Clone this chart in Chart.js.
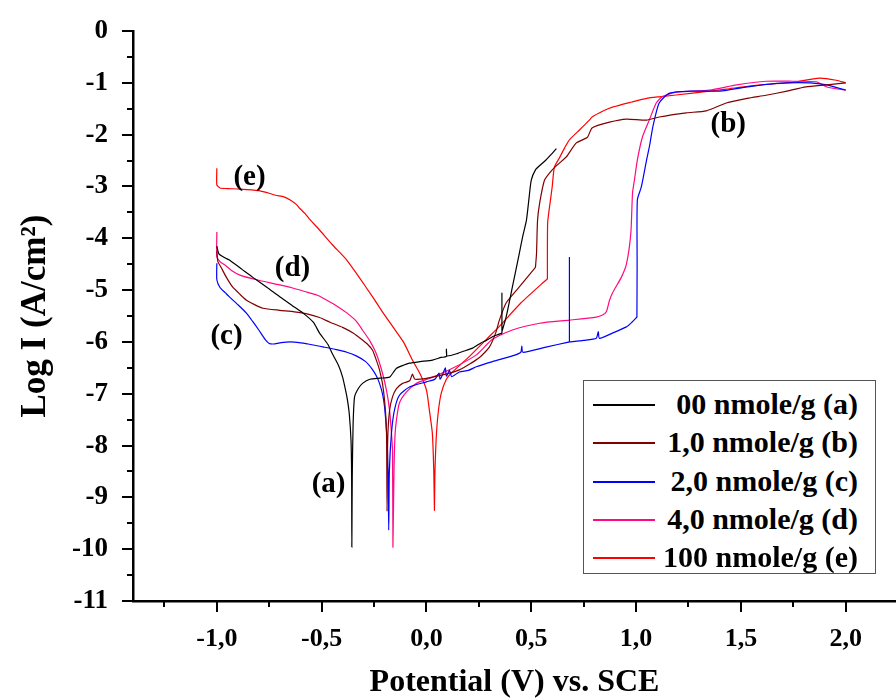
<!DOCTYPE html>
<html>
<head>
<meta charset="utf-8">
<title>Polarization curves</title>
<script src="https://cdn.jsdelivr.net/npm/chart.js@4.4.1/dist/chart.umd.min.js"></script>
<style>
  html, body { margin: 0; padding: 0; background: #fff; }
  #wrap { position: relative; width: 896px; height: 700px; }
  #legend {
    position: absolute; left: 583px; top: 380px; width: 293px; height: 194px;
    border: 1.5px solid #555; box-sizing: border-box; background: #fff;
    font: bold 30px "Liberation Serif", "Times New Roman", serif; color: #000;
  }
  .row { position: absolute; left: 0; right: 0; height: 38px; line-height: 38px; }
  .row .ln { position: absolute; left: 9px; width: 62px; top: 19px; height: 1.5px; }
  .row .tx { position: absolute; right: 17px; top: 0; white-space: nowrap; }
</style>
</head>
<body>
<div id="wrap">
  <canvas id="polChart" width="896" height="700"></canvas>
  <div id="legend"></div>
</div>
<script>
// series names and colours (legend order)
const seriesLabels = ['00 nmole/g (a)', '1,0 nmole/g (b)', '2,0 nmole/g (c)', '4,0 nmole/g (d)', '100 nmole/g (e)'];
const seriesColors = ['#000000', '#800000', '#0000ff', '#ff0a82', '#ff0000'];

// tick labels
const xTicks = [-1.0, -0.5, 0.0, 0.5, 1.0, 1.5, 2.0];
const yTicks = [0, -1, -2, -3, -4, -5, -6, -7, -8, -9, -10, -11];

// (a) 00 nmole/g
const potA = [-1.0, -0.99, -0.96, -0.94, -0.88, -0.83, -0.76, -0.70, -0.64, -0.59, -0.54, -0.51, -0.47, -0.45, -0.42, -0.40, -0.385, -0.377, -0.368, -0.36, -0.357, -0.356, -0.354, -0.35, -0.343, -0.325, -0.305, -0.27, -0.22, -0.176, -0.16, -0.143, -0.11, -0.081, -0.03, 0.029, 0.07, 0.095, 0.095, 0.098, 0.15, 0.19, 0.22, 0.26, 0.286, 0.315, 0.34, 0.36, 0.36, 0.36, 0.36, 0.36, 0.38, 0.41, 0.443, 0.46, 0.477, 0.49, 0.50, 0.52, 0.545, 0.57, 0.60, 0.62];
const logA = [-4.15, -4.3, -4.38, -4.42, -4.6, -4.75, -4.95, -5.13, -5.3, -5.44, -5.62, -5.83, -6.05, -6.22, -6.45, -6.68, -6.95, -7.12, -7.4, -7.9, -8.6, -9.96, -8.6, -7.6, -7.06, -6.9, -6.8, -6.72, -6.7, -6.68, -6.6, -6.51, -6.45, -6.41, -6.38, -6.35, -6.3, -6.28, -6.14, -6.27, -6.22, -6.16, -6.12, -6.02, -5.97, -5.9, -5.86, -5.83, -5.83, -5.06, -5.8, -5.8, -5.52, -4.94, -4.29, -3.95, -3.65, -3.2, -2.88, -2.68, -2.58, -2.49, -2.36, -2.27];

// (b) 1,0 nmole/g
const potB = [-1.0, -0.995, -0.98, -0.955, -0.925, -0.89, -0.86, -0.82, -0.78, -0.70, -0.63, -0.57, -0.51, -0.46, -0.40, -0.35, -0.31, -0.28, -0.257, -0.235, -0.224, -0.21, -0.2, -0.193, -0.19, -0.188, -0.185, -0.176, -0.162, -0.143, -0.114, -0.08, -0.067, -0.055, 0.029, 0.157, 0.253, 0.3, 0.33, 0.348, 0.38, 0.443, 0.52, 0.52, 0.525, 0.53, 0.54, 0.563, 0.60, 0.634, 0.667, 0.715, 0.768, 0.79, 0.873, 0.954, 1.05, 1.11, 1.24, 1.335, 1.43, 1.53, 1.62, 1.72, 1.81, 1.91, 2.0];
const logB = [-4.25, -4.45, -4.56, -4.75, -4.94, -5.08, -5.19, -5.28, -5.35, -5.39, -5.42, -5.46, -5.53, -5.62, -5.72, -5.83, -5.95, -6.05, -6.16, -6.4, -6.54, -6.8, -7.12, -7.5, -7.9, -9.27, -7.9, -7.32, -7.06, -6.9, -6.8, -6.75, -6.62, -6.72, -6.68, -6.54, -6.3, -6.1, -5.83, -5.58, -5.25, -4.94, -4.56, -4.56, -4.3, -3.65, -3.32, -2.88, -2.68, -2.55, -2.43, -2.16, -2.05, -1.87, -1.76, -1.70, -1.72, -1.66, -1.58, -1.54, -1.39, -1.3, -1.24, -1.16, -1.08, -1.04, -1.0];

// (c) 2,0 nmole/g
const potC = [-1.0, -1.0, -0.985, -0.96, -0.94, -0.90, -0.86, -0.83, -0.80, -0.77, -0.75, -0.73, -0.70, -0.65, -0.60, -0.54, -0.49, -0.43, -0.38, -0.335, -0.29, -0.26, -0.24, -0.224, -0.21, -0.2, -0.19, -0.183, -0.18, -0.177, -0.167, -0.153, -0.129, -0.081, 0.0, 0.04, 0.06, 0.065, 0.076, 0.09, 0.095, 0.11, 0.12, 0.157, 0.2, 0.238, 0.315, 0.41, 0.45, 0.455, 0.46, 0.57, 0.682, 0.682, 0.682, 0.682, 0.682, 0.75, 0.81, 0.82, 0.825, 0.887, 0.954, 0.98, 1.004, 1.004, 1.005, 1.006, 1.025, 1.05, 1.065, 1.08, 1.11, 1.16, 1.27, 1.4, 1.53, 1.67, 1.83, 1.91, 2.0];
const logC = [-4.48, -4.8, -4.95, -5.05, -5.13, -5.28, -5.44, -5.6, -5.77, -5.95, -6.03, -6.04, -6.02, -6.0, -6.02, -6.06, -6.1, -6.15, -6.2, -6.27, -6.38, -6.52, -6.65, -6.8, -7.0, -7.25, -7.76, -8.5, -9.63, -8.5, -7.76, -7.32, -7.03, -6.87, -6.77, -6.72, -6.6, -6.72, -6.64, -6.5, -6.66, -6.55, -6.67, -6.58, -6.55, -6.48, -6.38, -6.27, -6.2, -6.08, -6.2, -6.1, -6.0, -6.0, -4.36, -6.0, -6.0, -5.97, -5.93, -5.8, -5.93, -5.83, -5.71, -5.62, -5.52, -5.52, -4.5, -3.26, -3.01, -2.49, -2.2, -1.85, -1.39, -1.2, -1.16, -1.16, -1.08, -1.01, -1.0, -1.04, -1.14];

// (d) 4,0 nmole/g
const potD = [-1.0, -1.0, -0.985, -0.96, -0.93, -0.89, -0.8, -0.7, -0.63, -0.57, -0.52, -0.477, -0.43, -0.38, -0.335, -0.305, -0.27, -0.24, -0.21, -0.19, -0.176, -0.168, -0.162, -0.16, -0.155, -0.15, -0.143, -0.129, -0.096, -0.048, 0.03, 0.124, 0.238, 0.315, 0.41, 0.54, 0.682, 0.81, 0.84, 0.858, 0.873, 0.887, 0.93, 0.954, 0.975, 0.983, 0.992, 1.006, 1.03, 1.063, 1.096, 1.125, 1.19, 1.35, 1.48, 1.62, 1.745, 1.86, 1.91, 2.0];
const logD = [-3.88, -4.36, -4.45, -4.52, -4.62, -4.71, -4.81, -4.9, -4.97, -5.04, -5.1, -5.19, -5.3, -5.44, -5.6, -5.77, -5.98, -6.22, -6.6, -6.95, -7.32, -7.7, -8.09, -9.96, -8.5, -7.8, -7.5, -7.18, -6.97, -6.8, -6.68, -6.51, -6.25, -5.95, -5.77, -5.64, -5.58, -5.52, -5.48, -5.42, -5.2, -5.06, -4.75, -4.5, -3.9, -3.13, -2.88, -2.49, -2.05, -1.72, -1.39, -1.27, -1.18, -1.14, -1.04, -0.97, -0.97, -0.98, -1.08, -1.14];

// (e) 100 nmole/g
const potE = [-1.0, -1.0, -0.985, -0.95, -0.89, -0.80, -0.76, -0.72, -0.68, -0.65, -0.62, -0.605, -0.58, -0.56, -0.51, -0.45, -0.38, -0.32, -0.257, -0.21, -0.16, -0.11, -0.067, -0.03, 0.0, 0.014, 0.028, 0.035, 0.038, 0.04, 0.046, 0.055, 0.07, 0.095, 0.124, 0.205, 0.286, 0.348, 0.45, 0.577, 0.577, 0.578, 0.587, 0.60, 0.61, 0.634, 0.66, 0.682, 0.73, 0.777, 0.79, 0.84, 0.887, 0.98, 1.05, 1.11, 1.27, 1.43, 1.59, 1.745, 1.874, 1.955, 2.0];
const logE = [-2.65, -2.97, -3.03, -3.04, -3.05, -3.08, -3.12, -3.17, -3.2, -3.26, -3.35, -3.42, -3.52, -3.62, -3.84, -4.12, -4.42, -4.76, -5.13, -5.42, -5.71, -6.0, -6.35, -6.62, -6.93, -7.32, -7.76, -8.5, -9.25, -8.6, -7.9, -7.4, -7.0, -6.72, -6.58, -6.28, -5.95, -5.7, -5.25, -4.78, -4.78, -3.71, -3.4, -3.0, -2.63, -2.45, -2.25, -2.1, -1.91, -1.72, -1.66, -1.55, -1.47, -1.37, -1.3, -1.27, -1.2, -1.12, -1.04, -0.99, -0.91, -0.95, -1.0];

// curve tags written on the plot (data coordinates)
const curveTags = [
    { text: '(a)', x: -0.467, y: -8.75 },
    { text: '(b)', x: 1.44, y: -1.8 },
    { text: '(c)', x: -0.954, y: -5.89 },
    { text: '(d)', x: -0.639, y: -4.58 },
    { text: '(e)', x: -0.844, y: -2.82 }
];

const serif = '"Liberation Serif", "Times New Roman", serif';

function toPoints(xs, ys) {
    return xs.map((x, i) => ({ x: x, y: ys[i] }));
}

const allPots = [potA, potB, potC, potD, potE];
const allLogs = [logA, logB, logC, logD, logE];

const datasets = seriesLabels.map((label, i) => ({
    label: label,
    data: toPoints(allPots[i], allLogs[i]),
    borderColor: seriesColors[i],
    backgroundColor: seriesColors[i],
    borderWidth: 1.2,
    pointRadius: 0,
    showLine: true,
    tension: 0.2
}));

// major + minor tick marks along both axes
const tickMarks = {
    id: 'tickMarks',
    afterDraw(chart) {
        const ctx = chart.ctx;
        const area = chart.chartArea;
        const xs = chart.scales.x;
        const ys = chart.scales.y;
        ctx.save();
        ctx.strokeStyle = '#000';
        ctx.lineWidth = 2;
        ctx.beginPath();
        for (let k = -5; k <= 9; k++) {
            const v = k * 0.25;
            const px = Math.round(xs.getPixelForValue(v));
            if (px < area.left - 1 || px > area.right + 1) continue;
            const len = (k % 2 === 0) ? 11 : 6;
            ctx.moveTo(px, area.bottom);
            ctx.lineTo(px, area.bottom + len);
        }
        for (let k = 0; k <= 22; k++) {
            const v = -k * 0.5;
            const py = Math.round(ys.getPixelForValue(v));
            const len = (k % 2 === 0) ? 11 : 6;
            ctx.moveTo(area.left, py);
            ctx.lineTo(area.left - len, py);
        }
        ctx.stroke();
        ctx.restore();
    }
};

const tagLabels = {
    id: 'tagLabels',
    afterDatasetsDraw(chart) {
        const ctx = chart.ctx;
        ctx.save();
        ctx.fillStyle = '#000';
        ctx.font = 'bold 29px ' + serif;
        ctx.textAlign = 'center';
        ctx.textBaseline = 'middle';
        curveTags.forEach(t => {
            ctx.fillText(t.text, chart.scales.x.getPixelForValue(t.x), chart.scales.y.getPixelForValue(t.y));
        });
        ctx.restore();
    }
};

const ctx = document.getElementById('polChart').getContext('2d');
const polChart = new Chart(ctx, {
    type: 'scatter',
    data: { datasets: datasets },
    options: {
        responsive: false,
        animation: false,
        devicePixelRatio: 1,
        layout: { padding: { top: 31, right: 0, left: 0, bottom: 0 } },
        plugins: {
            legend: { display: false },
            tooltip: { enabled: false }
        },
        scales: {
            x: {
                type: 'linear',
                min: -1.4,
                max: 2.24,
                afterBuildTicks: s => { s.ticks = xTicks.map(v => ({ value: v })); },
                afterFit: s => { s.height = 99; },
                grid: { drawOnChartArea: false, drawTicks: true, tickLength: 11, color: 'rgba(0,0,0,0)' },
                border: { display: true, color: '#000', width: 2.5 },
                ticks: {
                    autoSkip: false,
                    maxRotation: 0,
                    padding: 12,
                    color: '#000',
                    font: { family: serif, size: 26, weight: 'bold' },
                    callback: v => v.toFixed(1).replace('.', ',')
                },
                title: {
                    display: true,
                    text: 'Potential (V) vs. SCE',
                    color: '#000',
                    font: { family: serif, size: 32, weight: 'bold' },
                    padding: { top: 0, bottom: -2 }
                }
            },
            y: {
                type: 'linear',
                min: -11,
                max: 0,
                afterBuildTicks: s => { s.ticks = yTicks.map(v => ({ value: v })); },
                afterFit: s => { s.width = 133; },
                grid: { drawOnChartArea: false, drawTicks: true, tickLength: 11, color: 'rgba(0,0,0,0)' },
                border: { display: true, color: '#000', width: 2.5 },
                ticks: {
                    autoSkip: false,
                    padding: 14,
                    color: '#000',
                    font: { family: serif, size: 27, weight: 'bold' },
                    callback: v => String(v)
                },
                title: {
                    display: true,
                    text: 'Log I (A/cm²)',
                    color: '#000',
                    font: { family: serif, size: 35, weight: 'bold' },
                    padding: { top: 15, bottom: 0 }
                }
            }
        }
    },
    plugins: [tickMarks, tagLabels]
});

// legend box built from the series names and colours
const legendBox = document.getElementById('legend');
seriesLabels.forEach((label, i) => {
    const row = document.createElement('div');
    row.className = 'row';
    row.style.top = Math.round(4 + i * 38.3) + 'px';
    const ln = document.createElement('div');
    ln.className = 'ln';
    ln.style.background = seriesColors[i];
    const tx = document.createElement('span');
    tx.className = 'tx';
    tx.textContent = label;
    row.appendChild(ln);
    row.appendChild(tx);
    legendBox.appendChild(row);
});
</script>
</body>
</html>
